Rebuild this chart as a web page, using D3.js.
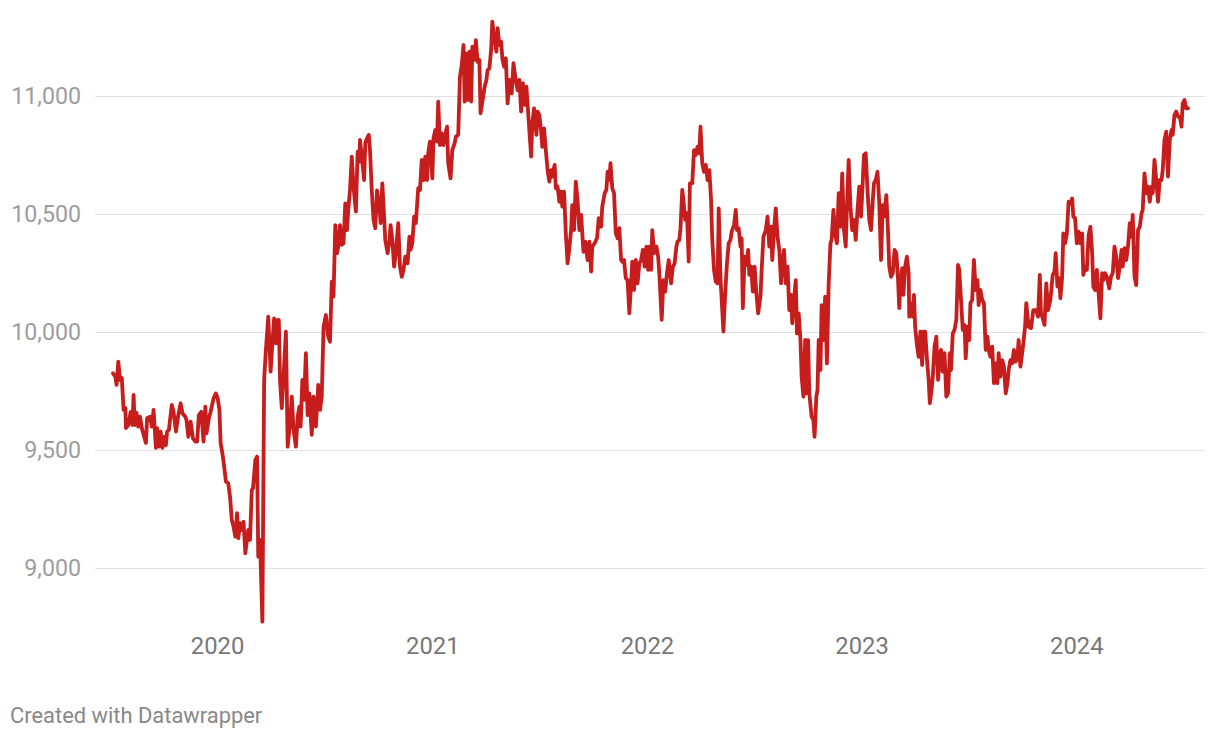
<!DOCTYPE html>
<html><head><meta charset="utf-8">
<script src="https://cdn.jsdelivr.net/npm/d3@7"></script>
<style>
html,body{margin:0;padding:0;background:#fff;}
svg{display:block;font-family:Roboto, "Noto Sans", sans-serif;}
</style>
</head><body>
<svg id="chart" width="1220" height="738"></svg>
<script>
// Day offsets are counted from 1 January 2020; values are index points.
const baseDate = new Date(2020, 0, 1);
const observations = [
[-177,9825],[-173,9811],[-171,9776],[-168,9874],[-165,9797],[-162,9805],[-159,9670],[-156,9678],[-155,9593],[-151,9606],
[-147,9661],[-144,9606],[-142,9733],[-140,9606],[-137,9657],[-134,9599],[-131,9641],[-128,9593],[-125,9564],[-121,9530],
[-119,9636],[-114,9641],[-111,9599],[-108,9670],[-104,9509],[-102,9593],[-99,9514],[-96,9578],[-93,9509],[-90,9556],
[-87,9521],[-85,9578],[-82,9585],[-77,9691],[-74,9662],[-70,9578],[-66,9648],[-62,9698],[-59,9656],[-54,9641],
[-52,9627],[-49,9556],[-45,9620],[-41,9549],[-37,9536],[-34,9536],[-31,9648],[-27,9662],[-23,9536],[-20,9684],
[-18,9571],[-14,9634],[-11,9662],[-6,9719],[-2,9740],[1,9719],[4,9670],[6,9529],[9,9486],[12,9430],
[15,9366],[19,9359],[22,9302],[25,9203],[28,9175],[31,9133],[34,9232],[36,9126],[39,9190],[42,9161],
[45,9196],[48,9062],
[53,9161],[56,9119],[59,9330],[61,9337],[63,9394],[65,9458],[68,9472],[70,9048],[73,9119],[77,8773],
[80,9797],[83,9924],[87,10065],[91,9832],[94,9952],[97,10058],[100,9952],[103,10051],[105,10051],[107,9797],
[110,9677],[113,9811],[117,10002],[120,9514],[124,9613],[127,9726],[130,9585],[134,9514],[137,9641],[140,9684],
[142,9599],[145,9797],[148,9712],[151,9910],[154,9648],[157,9740],[161,9564],[164,9726],[168,9599],[172,9776],
[175,9670],[178,9726],[181,10022],[185,10072],[189,9980],[192,9959],[195,10213],[198,10150],[201,10453],[204,10334],
[206,10362],[209,10453],[212,10369],[215,10376],[218,10545],[221,10432],[223,10517],[226,10602],[229,10743],[232,10616],
[236,10510],[239,10764],[242,10722],[243,10814],[246,10743],[250,10644],[252,10800],[255,10821],[258,10835],[260,10771],
[263,10602],[266,10475],[269,10440],[272,10600],[276,10531],[278,10461],[281,10630],[286,10390],[290,10334],[293,10383],
[295,10453],[298,10390],[301,10277],[304,10334],[308,10461],[311,10277],[314,10234],[317,10263],[320,10319],[324,10291],
[327,10404],[329,10348],[332,10376],[335,10489],[338,10461],[342,10609],[345,10602],[348,10729],[351,10644],[354,10743],
[357,10644],[359,10757],[362,10807],[366,10651],[368,10821],[371,10856],[374,10807],[376,10976],[379,10792],[382,10842],
[385,10792],[388,10835],[391,10870],[393,10715],[397,10651],[400,10771],[404,10800],[406,10828],[410,10835],[413,11082],
[416,11131],[419,11216],[421,10976],[423,11181],[426,10983],[429,11188],[432,10976],[434,11209],[438,11153],[440,11237],
[443,11145],[446,11153],[448,10927],[452,10990],[455,11040],[458,11068],[460,11110],[463,11117],[466,11195],[468,11315],
[471,11251],[475,11188],[477,11287],[480,11216],[483,11230],[485,11160],
[488,11124],[491,11160],[494,10969],[497,11068],[501,11011],[504,11139],[507,11082],[511,11025],[514,11068],[517,10934],
[520,11054],[523,10962],[526,11040],[529,10927],[534,10743],[536,10884],[539,10948],[543,10835],[545,10934],[548,10920],
[551,10849],[553,10785],[556,10863],[559,10771],[562,10686],[565,10637],[568,10686],[570,10658],[574,10708],[576,10609],
[579,10616],[582,10552],[585,10595],[587,10531],[590,10595],[593,10418],[596,10291],[599,10355],[602,10432],[604,10538],
[607,10432],[610,10637],[613,10559],[616,10432],[619,10496],[623,10340],[626,10383],[630,10305],[633,10383],[636,10256],
[638,10362],[642,10376],[646,10397],[649,10482],[653,10446],[655,10531],[659,10588],[662,10602],[664,10679],[667,10644],
[669,10715],[672,10609],[675,10588],[678,10418],[681,10397],[684,10440],[687,10305],[689,10298],[692,10305],[695,10228],
[698,10220],[701,10079],[704,10206],[706,10298],
[709,10178],[712,10305],[715,10206],[718,10291],[721,10305],[724,10348],[727,10277],[730,10362],[733,10263],[735,10362],
[738,10263],[740,10432],[743,10334],[747,10362],[750,10319],[752,10249],[756,10051],[759,10220],[762,10171],[765,10249],
[768,10305],[772,10206],[775,10277],[778,10291],[781,10362],[783,10383],[786,10390],[788,10439],[791,10602],[793,10559],
[796,10475],[799,10503],[802,10298],[804,10630],[808,10630],[811,10771],[814,10750],[817,10785],[820,10757],[822,10870],
[825,10715],[828,10679],[831,10708],[834,10644],[837,10686],[840,10559],[842,10390],[845,10263],[848,10213],[851,10206],
[853,10524],[856,10228],[859,10093],[861,10002],[864,10164],[867,10291],[870,10376],[873,10390],[875,10425],[879,10453],
[882,10517],[884,10432],[887,10439],[890,10362],[892,10397],[894,10101],[897,10319],[900,10284],[903,10348],[905,10242],
[908,10277],[911,10171],[914,10277],[917,10164],[920,10079],[924,10150],
[926,10260],[929,10404],[933,10432],[936,10489],[939,10362],[942,10446],[944,10305],[947,10432],[950,10524],[953,10404],
[956,10348],[959,10206],[961,10277],[964,10348],[967,10206],[970,10277],[973,10093],[976,10157],[978,10037],[981,10136],
[984,10220],[986,9994],[989,10079],[992,9966],[994,9811],[997,9726],[1000,9966],[1002,9740],[1005,9966],[1007,9740],
[1011,9641],[1014,9627],[1016,9556],[1019,9726],[1021,9754],[1023,9966],[1026,9839],[1028,10114],[1031,9966],[1034,10150],
[1037,9867],[1040,10206],[1043,10376],[1045,10390],[1048,10517],[1051,10418],[1054,10376],[1057,10588],[1060,10446],[1063,10672],
[1066,10432],[1069,10362],[1071,10531],[1074,10729],[1077,10531],[1080,10432],[1083,10475],[1086,10390],[1089,10517],[1092,10616],
[1095,10489],[1097,10588],[1100,10750],[1103,10757],[1106,10602],[1109,10475],[1112,10432],[1115,10559],[1117,10630],[1120,10644],
[1123,10679],[1126,10545],[1129,10305],[1132,10538],[1134,10489],[1138,10580],[1141,10418],[1143,10277],
[1146,10234],[1149,10249],[1152,10348],[1155,10334],[1158,10220],[1160,10101],[1162,10206],[1165,10270],[1167,10157],[1170,10277],
[1173,10319],[1176,10249],[1177,10065],[1180,10122],[1183,10065],[1185,10157],[1187,10023],[1190,9945],[1193,9895],[1196,10002],
[1199,9860],[1201,10002],[1204,10002],[1207,9888],[1210,9797],[1212,9698],[1215,9754],[1217,9811],[1220,9938],[1223,9980],
[1226,9797],[1229,9895],[1231,9924],[1234,9832],[1237,9910],[1240,9726],[1243,9740],[1246,9910],[1248,9839],[1251,9994],
[1254,10009],[1257,10051],[1260,10284],[1262,10263],[1265,10136],[1268,10009],[1271,10030],[1273,9888],[1276,10023],[1279,9966],
[1281,10122],[1284,10136],[1287,10305],[1290,10178],[1293,10220],[1295,10114],[1298,10178],[1301,10136],[1304,10122],[1307,9924],
[1310,9980],[1312,9924],[1315,9895],[1318,9938],[1321,9783],[1324,9867],[1327,9783],[1329,9910],[1332,9811],[1335,9881],
[1338,9853],[1341,9740],[1344,9783],[1346,9839],[1349,9881],[1352,9867],[1355,9924],[1358,9874],[1361,9895],[1363,9966],
[1366,9853],[1369,9910],[1371,9952],[1374,10023],[1376,10122],
[1380,10023],[1384,10016],[1388,10093],[1393,10093],[1396,10065],[1399,10242],[1401,10079],[1404,10058],[1407,10030],[1410,10206],
[1413,10093],[1417,10136],[1421,10242],[1424,10256],[1426,10334],[1429,10192],[1432,10228],[1434,10143],[1437,10234],[1439,10418],
[1442,10376],[1445,10418],[1448,10552],[1451,10545],[1454,10566],[1456,10489],[1459,10482],[1462,10376],[1465,10425],[1468,10376],
[1471,10418],[1473,10242],[1476,10277],[1479,10263],[1482,10411],[1485,10446],[1488,10334],[1490,10192],[1493,10178],[1496,10263],
[1499,10164],[1502,10058],[1505,10249],[1507,10220],[1510,10249],[1513,10234],[1517,10185],[1520,10234],[1523,10249],[1526,10362],
[1529,10319],[1532,10228],[1535,10277],[1538,10348],[1540,10277],[1543,10355],[1546,10305],[1549,10362],[1552,10461],[1555,10404],
[1557,10496],[1560,10234],[1563,10199],[1566,10432],[1569,10446],[1572,10503],[1574,10517],[1577,10672],[1580,10588],[1583,10616],
[1586,10552],[1589,10616],[1591,10588],[1594,10729],[1597,10644],[1600,10552],[1603,10644],[1606,10644],[1608,10686],[1611,10814],
[1614,10849],[1617,10658],[1620,10814],[1623,10856],[1625,10835],[1628,10920],[1631,10934],[1634,10913],[1637,10913],[1640,10870],
[1642,10969],[1645,10983],[1648,10948],[1651,10948]
];
const yTicks = [9000, 9500, 10000, 10500, 11000];
const xTickYears = [2020, 2021, 2022, 2023, 2024];
const sourceNote = "Created with Datawrapper";

const data = observations.map(([d, v]) => ({date: d3.timeDay.offset(baseDate, d), value: v}));

const svg = d3.select("#chart");
const x = d3.scaleTime().domain(d3.extent(data, d => d.date)).range([113, 1188]);
const y = d3.scaleLinear().domain([9000, 11000]).range([568, 96]);

// y axis with gridlines
const yAxis = d3.axisLeft(y)
  .tickValues(yTicks)
  .tickSize(-1110)
  .tickPadding(14)
  .tickFormat(d3.format(","));
const gy = svg.append("g").attr("transform", "translate(95,0)").call(yAxis);
gy.select(".domain").remove();
gy.selectAll(".tick line").attr("stroke", "#e1e1e1").attr("stroke-width", 1);
gy.selectAll(".tick text").attr("fill", "#9d9d9d").style("font-size", "23.2px").style("font-family", "Roboto");

// x axis labels
const xAxis = d3.axisBottom(x)
  .tickValues(xTickYears.map(yr => new Date(yr, 0, 1)))
  .tickSize(0)
  .tickPadding(0)
  .tickFormat(d3.timeFormat("%Y"));
const gx = svg.append("g").attr("transform", "translate(0,637)").call(xAxis);
gx.select(".domain").remove();
gx.selectAll(".tick text").attr("fill", "#777777").style("font-size", "23.8px").style("font-family", "Roboto");

// line
const line = d3.line().x(d => x(d.date)).y(d => y(d.value));
svg.append("path")
  .datum(data)
  .attr("fill", "none")
  .attr("stroke", "#c71e1d")
  .attr("stroke-width", 3.8)
  .attr("stroke-linejoin", "round")
  .attr("stroke-linecap", "round")
  .attr("d", line);

svg.append("text")
  .attr("x", 10).attr("y", 723)
  .attr("fill", "#888888")
  .style("font-size", "21.9px")
  .style("font-family", "Roboto")
  .text(sourceNote);
</script>
</body></html>
